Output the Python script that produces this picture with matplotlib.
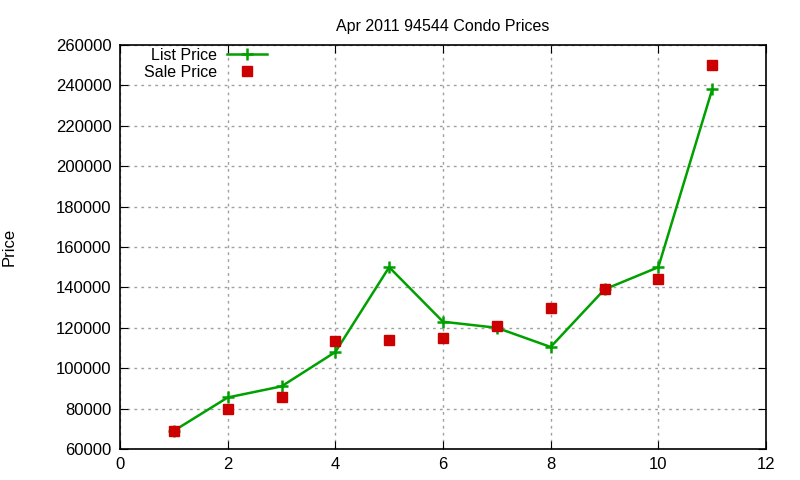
import numpy as np
import matplotlib
matplotlib.use("Agg")
import matplotlib.pyplot as plt

plt.rcParams['font.family'] = ['Liberation Sans', 'DejaVu Sans']

# data
months = [1, 2, 3, 4, 5, 6, 7, 8, 9, 10, 11]
list_price = [69000, 85500, 91000, 108000, 150000, 123000, 120000, 110500, 139000, 150000, 238000]
sale_price = [69000, 80000, 85500, 113500, 114000, 115000, 121000, 130000, 139000, 144000, 250000]

x_ticks = [0, 2, 4, 6, 8, 10, 12]
y_ticks = list(range(60000, 260001, 20000))

fig = plt.figure(figsize=(8, 4.8), dpi=100)
ax = fig.add_axes([0.15, 0.0646, 0.8075, 0.8417])

ax.plot(months, list_price, color='#00a000', lw=1.8, marker='+', ms=9, mew=1.8,
        label='List Price')
ax.plot(months, sale_price, ls='none', color='#cc0000', marker='s', ms=6.5,
        label='Sale Price')

ax.set_xlim(0, 12)
ax.set_ylim(60000, 260000)
ax.set_xticks(x_ticks)
ax.set_yticks(y_ticks)
ax.tick_params(direction='in', top=True, right=True, length=6, labelsize=12, pad=6)
ax.grid(True, color='#a0a0a0', ls=(0, (2, 3)), lw=1)
for s in ax.spines.values():
    s.set_linewidth(1.2)

ax.set_title('Apr 2011 94544 Condo Prices', fontsize=11.5, pad=10)
ax.set_ylabel('Price', fontsize=12, labelpad=28)

leg = ax.legend(loc='upper left', bbox_to_anchor=(0.02, 1.02), frameon=False, markerfirst=False,
                fontsize=11.5, handlelength=2.5, handletextpad=0.6, labelspacing=0.1,
                borderaxespad=0.3)

plt.savefig('out.png', dpi=100)
